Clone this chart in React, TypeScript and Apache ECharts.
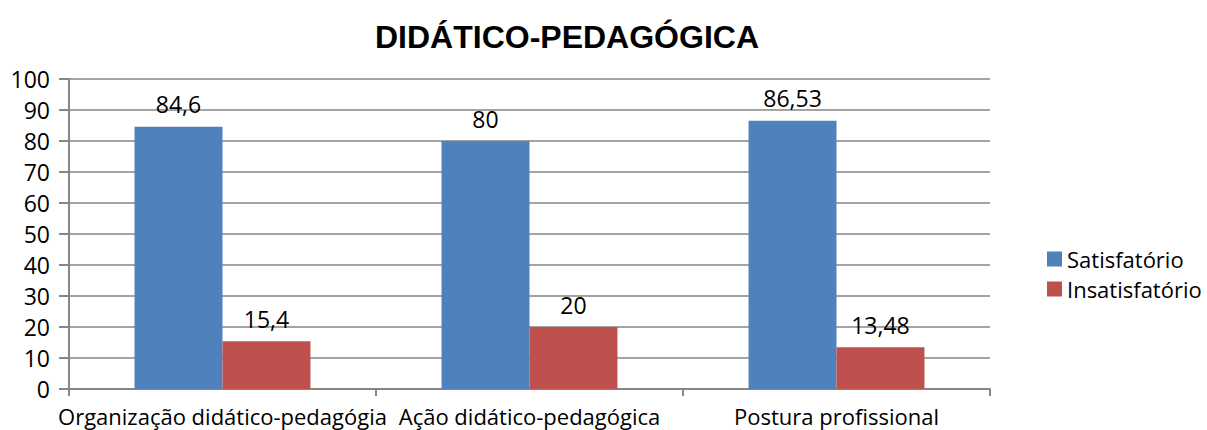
import React, { useEffect, useRef } from "react";
import * as echarts from "echarts";

const categories = ["Organização didático-pedagógia", "Ação didático-pedagógica", "Postura profissional"];
const satisfatorio = [84.6, 80, 86.53];
const insatisfatorio = [15.4, 20, 13.48];
const seriesNames = ["Satisfatório", "Insatisfatório"];

const FONT = "'Open Sans', 'Noto Sans', sans-serif";
const fmt = (v: number) => String(v).replace(".", ",");

export default function App() {
  const ref = useRef<HTMLDivElement>(null);
  useEffect(() => {
    const chart = echarts.init(ref.current!, undefined, { renderer: "svg" });
    chart.setOption({
      animation: false,
      title: {
        text: "DIDÁTICO-PEDAGÓGICA",
        left: 562,
        top: 16,
        textAlign: "center",
        textStyle: { fontFamily: "'Liberation Sans', Arial, sans-serif", fontWeight: "bold", fontSize: 32, color: "#000" },
      },
      legend: {
        orient: "vertical",
        left: 1042,
        top: 243,
        itemWidth: 15,
        itemHeight: 15,
        itemGap: 8,
        icon: "rect",
        textStyle: { fontFamily: FONT, fontSize: 22, color: "#000", padding: [0, 0, 0, 0] },
        data: seriesNames,
      },
      grid: { left: 69, right: 217, top: 79, bottom: 41, containLabel: false },
      xAxis: {
        type: "category",
        data: categories,
        axisLine: { lineStyle: { color: "#868686", width: 2 } },
        axisTick: { show: true, length: 7, lineStyle: { color: "#868686", width: 2 } },
        axisLabel: { interval: 0, fontFamily: FONT, fontSize: 22, color: "#000", margin: 16 },
      },
      yAxis: {
        type: "value",
        min: 0,
        max: 100,
        interval: 10,
        axisLine: { show: true, lineStyle: { color: "#868686", width: 2 } },
        axisTick: { show: true, length: 10, lineStyle: { color: "#868686", width: 2 } },
        splitLine: { lineStyle: { color: "#868686", width: 1.5 } },
        axisLabel: { fontFamily: FONT, fontSize: 23, color: "#000", margin: 19 },
      },
      series: [
        {
          name: seriesNames[0],
          type: "bar",
          data: satisfatorio,
          barGap: "0%",
          barCategoryGap: "42.7%",
          itemStyle: { color: "#4f81bd" },
          label: { show: true, position: "top", fontFamily: FONT, fontSize: 23, color: "#000", formatter: (p: any) => fmt(p.value), distance: 11 },
        },
        {
          name: seriesNames[1],
          type: "bar",
          data: insatisfatorio,
          itemStyle: { color: "#c0504d" },
          label: { show: true, position: "top", fontFamily: FONT, fontSize: 23, color: "#000", formatter: (p: any) => fmt(p.value), distance: 11 },
        },
      ],
    });
    return () => chart.dispose();
  }, []);
  return <div ref={ref} style={{ width: 1207, height: 430, position: "absolute", left: 0, top: 0, background: "#fff" }} />;
}
